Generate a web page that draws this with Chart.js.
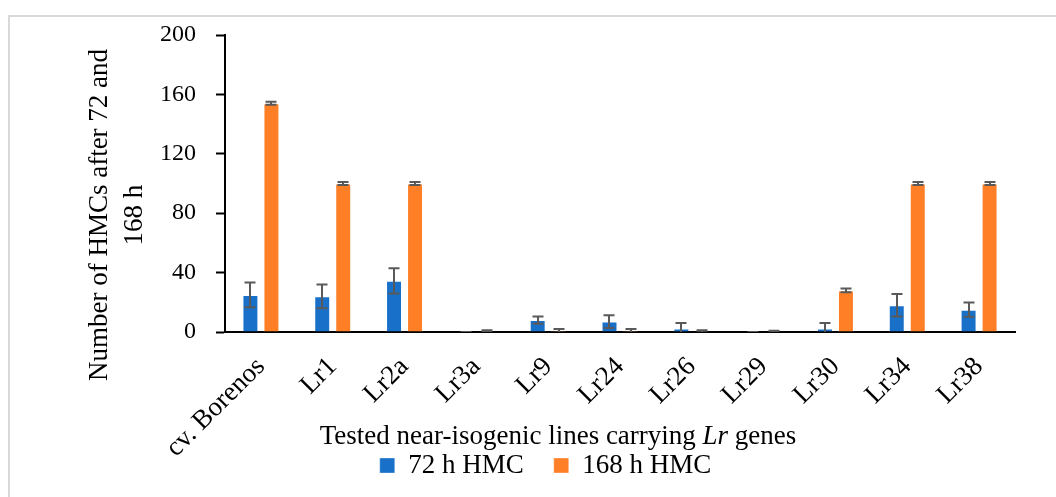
<!DOCTYPE html>
<html><head><meta charset="utf-8">
<script src="https://cdn.jsdelivr.net/npm/chart.js@4.4.0/dist/chart.umd.min.js"></script>
<style>
html,body{margin:0;padding:0;background:#fff;}
#wrap{position:relative;width:1056px;height:497px;overflow:hidden;background:#fff;}
#frame{position:absolute;left:8px;top:15px;width:1100px;height:600px;border:2px solid #d9d9d9;box-sizing:border-box;}
canvas{position:absolute;left:0;top:0;}
</style></head><body>
<div id="wrap"><div id="frame"></div><canvas id="c" width="1056" height="497"></canvas></div>
<script>
const categories = ['cv. Borenos','Lr1','Lr2a','Lr3a','Lr9','Lr24','Lr26','Lr29','Lr30','Lr34','Lr38'];
const hmc72 = [25, 24, 34.5, 0, 8, 7, 2.3, 0, 2.3, 18, 15];
const hmc72Err = [8.3, 8, 8.5, 0, 2.5, 4.3, 3.7, 0, 3.7, 7.6, 4.8];
const hmc168 = [154, 100, 100, 0.5, 0.8, 0.8, 0.4, 0.3, 28, 100, 100];
const hmc168Err = [1, 1, 1, 0.7, 1.3, 1.3, 0.8, 0.5, 1.3, 1, 1];
const yTicks = [0, 40, 80, 120, 160, 200];
const seriesNames = ['72 h HMC', '168 h HMC'];

const FONT = "'Liberation Serif', 'Times New Roman', serif";

const errorBars = {
  id: 'errorBars',
  afterDatasetsDraw(chart) {
    const ctx = chart.ctx, ys = chart.scales.y, a = chart.chartArea;
    ctx.save();
    ctx.beginPath();
    ctx.rect(a.left, a.top - 30, a.right - a.left, a.bottom - a.top + 30);
    ctx.clip();
    ctx.strokeStyle = '#595959';
    ctx.lineWidth = 2;
    chart.data.datasets.forEach((ds, di) => {
      const meta = chart.getDatasetMeta(di);
      meta.data.forEach((bar, i) => {
        const v = ds.data[i], e = ds.errors[i];
        const x = Math.round(bar.x);
        const yt = ys.getPixelForValue(v + e), yb = ys.getPixelForValue(v - e);
        ctx.beginPath();
        ctx.moveTo(x, yt); ctx.lineTo(x, yb);
        ctx.moveTo(x - 5.5, yt); ctx.lineTo(x + 5.5, yt);
        ctx.moveTo(x - 5.5, yb); ctx.lineTo(x + 5.5, yb);
        ctx.stroke();
      });
    });
    ctx.restore();
  }
};

// let the rotated x tick labels extend below the scale box without being clipped
const labelRoom = {
  id: 'labelRoom',
  afterLayout(chart) {
    const xs = chart.scales.x;
    xs.bottom = chart.height;
  }
};

const titles = {
  id: 'titles',
  afterDraw(chart) {
    const ctx = chart.ctx;
    ctx.save();
    ctx.fillStyle = '#000';
    ctx.textBaseline = 'alphabetic';
    const parts = [
      ['Tested near-isogenic lines carrying ', 'normal'],
      ['Lr', 'italic'],
      [' genes', 'normal']
    ];
    let total = 0;
    parts.forEach(p => { ctx.font = p[1] + ' 27px ' + FONT; p.w = ctx.measureText(p[0]).width; total += p.w; });
    let x = 558 - total / 2;
    ctx.textAlign = 'left';
    parts.forEach(p => { ctx.font = p[1] + ' 27px ' + FONT; ctx.fillText(p[0], x, 444); x += p.w; });
    ctx.font = '27px ' + FONT;
    ctx.textAlign = 'center';
    ctx.translate(107, 215);
    ctx.rotate(-Math.PI / 2);
    ctx.fillText('Number of HMCs after 72 and', 0, 0);
    ctx.fillText('168 h', 0, 35);
    ctx.restore();
  }
};

new Chart(document.getElementById('c'), {
  type: 'bar',
  data: {
    labels: categories,
    datasets: [
      { label: seriesNames[0], data: hmc72, errors: hmc72Err, backgroundColor: '#1870C8', borderColor: 'rgba(255,255,255,0.35)', borderWidth: 1,
        categoryPercentage: 0.585, barPercentage: 0.76 },
      { label: seriesNames[1], data: hmc168, errors: hmc168Err, backgroundColor: '#FF7F27', borderColor: 'rgba(255,255,255,0.35)', borderWidth: 1,
        categoryPercentage: 0.585, barPercentage: 0.76 }
    ]
  },
  options: {
    responsive: false,
    animation: false,
    devicePixelRatio: 1,
    layout: { padding: { left: 76, right: 41, top: 35, bottom: 8 } },
    plugins: {
      legend: {
        position: 'bottom',
        labels: { font: { family: FONT, size: 27 }, color: '#000', boxWidth: 15, boxHeight: 15, padding: 30 }
      },
      tooltip: { enabled: false }
    },
    scales: {
      x: {
        grid: { display: false, drawTicks: false },
        border: { display: true, color: '#000', width: 2 },
        ticks: { font: { family: FONT, size: 27 }, color: '#000', maxRotation: 45, minRotation: 45, padding: 19, autoSkip: false },
        afterFit(s) { s.height = 90; }
      },
      y: {
        min: 0, max: 200,
        afterBuildTicks(s) { s.ticks = yTicks.map(v => ({ value: v })); },
        grid: { display: true, drawOnChartArea: false, drawTicks: true, tickLength: 9, color: '#000', tickWidth: 2 },
        border: { display: true, color: '#000', width: 2 },
        ticks: { font: { family: FONT, size: 24 }, color: '#000', padding: 20 },
        afterFit(s) { s.width = 149; }
      }
    }
  },
  plugins: [errorBars, labelRoom, titles]
});
</script>
</body></html>
